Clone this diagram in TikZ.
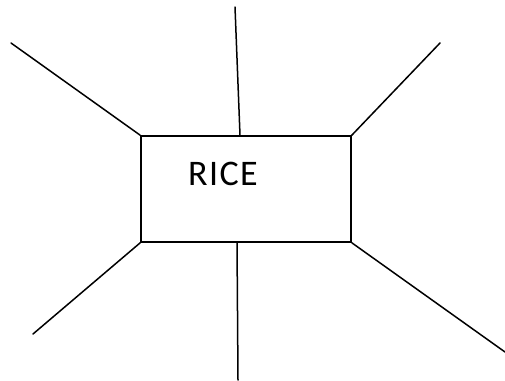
\documentclass[tikz,border=0pt]{standalone}
\usepackage{fontspec}
\setmainfont{Carlito}
\usepackage{tikz}
\usetikzlibrary{positioning}
\tikzset{
  rice box/.style={
    rectangle,
    draw=black,
    line width=1.5pt,
    minimum width=210pt,
    minimum height=106pt,
    inner sep=0pt,
  },
  rice label/.style={
    font=\fontsize{36}{40}\selectfont\addfontfeature{LetterSpace=4},
    inner sep=0pt,
  },
  rice spoke/.style={line width=1.5pt, line cap=round},
}
\begin{document}
\begin{tikzpicture}[x=1pt,y=-1pt]
  \useasboundingbox (0,0) rectangle (505,380);
  \node[rice box] (box) at (246,189) {};
  \node[rice label] (rice) at (223,174) {RICE};
  % free ends of the spokes
  \coordinate (tl) at (11,43);
  \coordinate (tm) at (235,7);
  \coordinate (tr) at (440,43);
  \coordinate (bl) at (33,334);
  \coordinate (bm) at (238,380);
  \coordinate (br) at (505,352);
  \draw[rice spoke] (box.north west) -- (tl);
  \draw[rice spoke] ([xshift=-6pt]box.north) -- (tm);
  \draw[rice spoke] (box.north east) -- (tr);
  \draw[rice spoke] (box.south west) -- (bl);
  \draw[rice spoke] ([xshift=-9pt]box.south) -- (bm);
  \draw[rice spoke] (box.south east) -- (br);
\end{tikzpicture}
\end{document}
